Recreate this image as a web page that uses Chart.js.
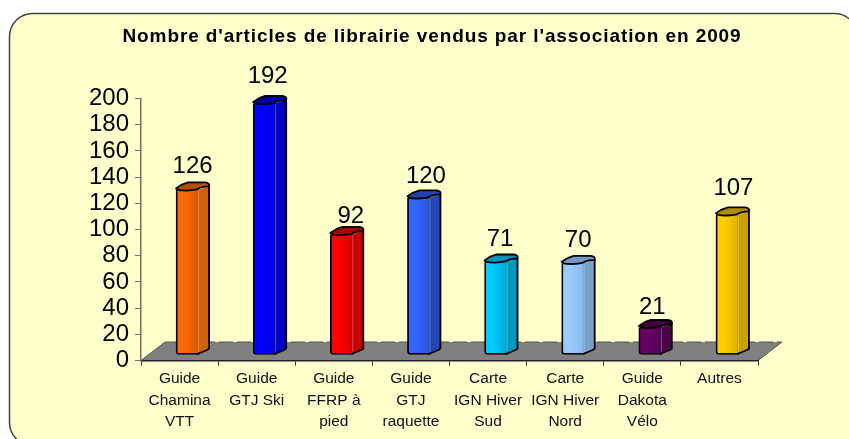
<!DOCTYPE html>
<html>
<head>
<meta charset="utf-8">
<script src="https://cdn.jsdelivr.net/npm/chart.js@4/dist/chart.umd.js"></script>
<style>
    html, body { margin: 0; padding: 0; background: #fff; overflow: hidden; }
    canvas { display: block; }
</style>
</head>
<body>
<canvas id="myChart" width="849" height="439"></canvas>
<script>
var chartTitle = "Nombre d'articles de librairie vendus par l'association en 2009";
var categories = [["Guide","Chamina","VTT"], ["Guide","GTJ Ski"], ["Guide","FFRP à","pied"], ["Guide","GTJ","raquette"],
    ["Carte","IGN Hiver","Sud"], ["Carte","IGN Hiver","Nord"], ["Guide","Dakota","Vélo"], ["Autres"]];
var soldValues = [126, 192, 92, 120, 71, 70, 21, 107];

var frontLight = ["#ff6a00","#0000ff","#ff0000","#3366ff","#00ccff","#99ccff","#660066","#ffcc00"];
var frontDark  = ["#d95800","#0000dc","#dc0000","#2b56d8","#00a8d8","#88b8e8","#550055","#dcb000"];
var sideColors = ["#d06008","#0000c4","#c40000","#2448b4","#0098bc","#76a2cc","#4c004c","#c8a200"];
var capColors  = ["#b44e00","#0000a8","#aa0000","#2244aa","#0090bc","#7098c8","#3e003e","#b08c00"];
// data labels were moved by hand in the original
var labelShift = [[13,-22],[11,-26],[17,-17],[15,-20],[12,-21],[13,-22],[10,-19],[14,-25]];

var BAR_W = 23, SIDE_W = 10, SHIFT_X = 8, SHIFT_Y = -5.5;

function barGradient(context) {
    if (context.dataIndex === undefined) return frontLight[0];
    var x = context.chart.scales.x.getPixelForValue(context.dataIndex);
    if (!isFinite(x)) return frontLight[context.dataIndex];
    var g = context.chart.ctx.createLinearGradient(x - BAR_W / 2, 0, x + BAR_W / 2, 0);
    g.addColorStop(0, frontLight[context.dataIndex]);
    g.addColorStop(0.35, frontLight[context.dataIndex]);
    g.addColorStop(1, frontDark[context.dataIndex]);
    return g;
}

var decorPlugin = {
    id: "decor",
    afterInit: function (chart) {
        // title is letter-spaced in the original
        var block = chart.titleBlock, drawTitle = block.draw;
        block.draw = function () {
            chart.ctx.letterSpacing = "0.9px";
            drawTitle.apply(block, arguments);
            chart.ctx.letterSpacing = "0px";
        };
    },
    beforeDraw: function (chart) {
        var c = chart.ctx, a = chart.chartArea;
        // rounded card, runs off the right and bottom of the picture
        c.save();
        c.beginPath();
        c.roundRect(9.5, 13.5, 848, 432, 23);
        c.fillStyle = "#ffffcc";
        c.fill();
        c.lineWidth = 1.5;
        c.strokeStyle = "#444";
        c.stroke();
        // floor
        var bx = 24, by = 18.5;
        c.beginPath();
        c.moveTo(a.left, a.bottom);
        c.lineTo(a.left + bx, a.bottom - by);
        c.lineTo(a.right + bx, a.bottom - by);
        c.lineTo(a.right, a.bottom);
        c.closePath();
        c.fillStyle = "#808080";
        c.fill();
        c.lineWidth = 1;
        c.strokeStyle = "#555";
        c.beginPath();
        c.moveTo(a.left, a.bottom);
        c.lineTo(a.left + bx, a.bottom - by);
        c.moveTo(a.right, a.bottom);
        c.lineTo(a.right + bx, a.bottom - by);
        c.stroke();
        c.setLineDash([14, 4]);
        c.beginPath();
        c.moveTo(a.left + bx, a.bottom - by);
        c.lineTo(a.right + bx, a.bottom - by);
        c.stroke();
        c.restore();
    },
    beforeDatasetDraw: function (chart) {
        chart.ctx.save();
        chart.ctx.translate(SHIFT_X, SHIFT_Y);
    },
    afterDatasetDraw: function (chart, args) {
        var c = chart.ctx;
        c.restore();
        args.meta.data.forEach(function (el, i) {
            var L = el.x + SHIFT_X - BAR_W / 2, R = L + BAR_W, S = R + SIDE_W;
            var T = el.y + SHIFT_Y, B = el.base + SHIFT_Y;
            c.save();
            c.lineJoin = "round";
            // side face
            c.beginPath();
            c.moveTo(R - 2, T);
            c.lineTo(S, T - 3.5);
            c.lineTo(S, B - 6);
            c.lineTo(S - 2, B - 4.5);
            c.lineTo(R + 2, B - 2);
            c.lineTo(R - 2, B);
            c.closePath();
            c.fillStyle = sideColors[i];
            c.fill();
            c.strokeStyle = "rgba(255,255,255,0.3)";
            c.lineWidth = 1;
            c.beginPath();
            c.moveTo(R - 0.5, T + 1);
            c.lineTo(R - 0.5, B - 3);
            c.stroke();
            c.strokeStyle = "#000";
            c.lineWidth = 1.8;
            c.beginPath();
            c.moveTo(S, T - 3.5);
            c.lineTo(S, B - 6);
            c.lineTo(S - 2, B - 4.5);
            c.lineTo(R + 2, B - 2);
            c.lineTo(R - 2, B - 0.3);
            c.stroke();
            // top cap, a wavy ellipse
            c.beginPath();
            c.moveTo(L, T - 1.5);
            c.bezierCurveTo(L + 3, T - 4, L + 8, T - 6.5, L + 12, T - 7.5);
            c.lineTo(S - 4, T - 7.5);
            c.bezierCurveTo(S - 1, T - 7.5, S + 1, T - 5.5, S, T - 3.5);
            c.bezierCurveTo(S - 4, T - 3.5, R + 1, T - 2.5, R - 2, T - 0.5);
            c.bezierCurveTo(R - 8, T + 1, L + 6, T + 1, L + 2, T);
            c.closePath();
            c.fillStyle = capColors[i];
            c.fill();
            c.stroke();
            c.restore();
        });
    },
    afterDatasetsDraw: function (chart) {
        var c = chart.ctx;
        c.save();
        c.font = "24px 'Liberation Sans'";
        c.textAlign = "center";
        c.fillStyle = "#000";
        chart.getDatasetMeta(0).data.forEach(function (el, i) {
            c.fillText(String(soldValues[i]), el.x + labelShift[i][0], el.y + labelShift[i][1]);
        });
        c.restore();
    }
};

new Chart("myChart", {
    type: "bar",
    data: {
        labels: categories,
        datasets: [{
            data: soldValues,
            backgroundColor: barGradient,
            borderColor: "#000",
            borderWidth: {left: 1.8, bottom: 1.8, right: 0, top: 0},
            borderSkipped: false,
            borderRadius: {bottomLeft: 3, bottomRight: 0, topLeft: 0, topRight: 0},
            barThickness: BAR_W,
            clip: false
        }]
    },
    plugins: [decorPlugin],
    options: {
        responsive: false,
        animation: false,
        layout: {padding: {left: 15, right: 0, top: 0, bottom: 0}},
        plugins: {
            legend: {display: false},
            tooltip: {enabled: false},
            title: {
                display: true,
                text: chartTitle,
                color: "#000",
                font: {family: "'Liberation Sans'", size: 19, weight: "bold", lineHeight: 1},
                padding: {top: 27, bottom: 52.5}
            }
        },
        scales: {
            x: {
                offset: true,
                afterFit: function (scale) { scale.height = 78.5; },
                grid: {drawOnChartArea: false, drawTicks: true, tickLength: 5, color: "#333", offset: true},
                border: {color: "#222", width: 1.5},
                ticks: {
                    color: "#111",
                    font: {family: "'Liberation Sans'", size: 15.5, lineHeight: 1.41},
                    padding: 2,
                    autoSkip: false,
                    maxRotation: 0
                }
            },
            y: {
                min: 0,
                max: 200,
                afterFit: function (scale) { scale.width = 126; },
                grid: {drawOnChartArea: false, tickLength: 6, color: "#707070"},
                border: {color: "#707070", width: 1.5},
                ticks: {
                    stepSize: 20,
                    color: "#000",
                    font: {family: "'Liberation Sans'", size: 24},
                    padding: 6,
                    autoSkip: false
                }
            },
            spacer: {
                position: "right",
                afterFit: function (scale) { scale.width = 91; },
                grid: {display: false},
                border: {display: false},
                ticks: {display: false}
            }
        }
    }
});
</script>
</body>
</html>
